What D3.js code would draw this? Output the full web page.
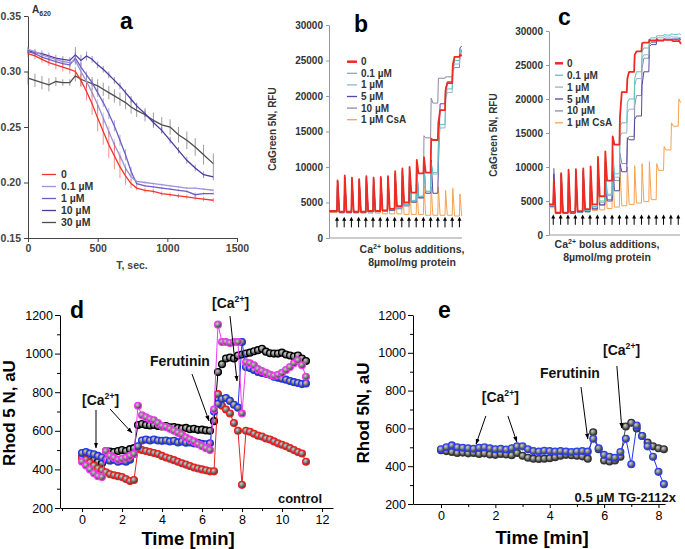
<!DOCTYPE html>
<html>
<head>
<meta charset="utf-8">
<script src="https://cdn.jsdelivr.net/npm/d3@7"></script>
<style>
  body { margin: 0; background: #fff; }
</style>
</head>
<body>
<svg id="fig" width="685" height="549"></svg>
<script>
var FONT = "Liberation Sans, Arial, sans-serif";

// ---------------- panel a data (T, sec / A620) ----------------
var aTime = [0, 50, 100, 150, 200, 250, 300, 340, 380, 420, 460, 500, 540, 580, 620, 660, 700, 740, 780, 840, 900, 960, 1020, 1080, 1140, 1200, 1260, 1330];
var a0   = [.316,.314,.311,.308,.306,.304,.302,.300,.292,.282,.271,.258,.246,.234,.224,.214,.206,.199,.195,.193,.192,.190,.189,.188,.187,.186,.185,.184];
var a01  = [.320,.318,.315,.313,.311,.309,.308,.310,.300,.291,.281,.270,.258,.246,.234,.224,.213,.205,.201,.200,.199,.198,.197,.196,.195,.195,.194,.193];
var a1   = [.318,.316,.313,.311,.309,.307,.306,.312,.304,.297,.290,.281,.272,.262,.251,.238,.225,.210,.199,.197,.196,.195,.194,.193,.192,.189,.190,.190];
var a10  = [.319,.317,.316,.314,.312,.311,.310,.315,.310,.314,.311,.306,.302,.297,.292,.287,.281,.275,.269,.262,.254,.247,.238,.229,.220,.213,.207,.205];
var a30  = [.294,.292,.290,.288,.291,.290,.290,.296,.293,.291,.289,.287,.284,.281,.278,.275,.272,.268,.265,.261,.256,.252,.250,.243,.238,.232,.225,.217];
var a0Err  = [.003,.003,.003,.003,.004,.004,.004,.004,.006,.008,.010,.012,.012,.012,.012,.010,.008,.004,.002,.002,.002,.002,.002,.002,.002,.002,.002,.002];
var a01Err = [.002,.002,.002,.002,.002,.002,.002,.003,.003,.004,.004,.005,.005,.005,.005,.004,.004,.003,.001,.001,.001,.001,.001,.001,.001,.001,.001,.001];
var a1Err  = [.002,.002,.002,.002,.002,.002,.002,.006,.004,.003,.003,.004,.004,.005,.005,.005,.005,.004,.002,.001,.001,.001,.001,.001,.001,.002,.001,.001];
var a10Err = [.003,.003,.003,.003,.003,.003,.003,.007,.005,.004,.003,.003,.003,.003,.003,.003,.003,.003,.003,.003,.003,.003,.003,.003,.003,.003,.003,.003];
var a30Err = [.006,.006,.006,.006,.004,.003,.003,.005,.006,.006,.006,.006,.006,.006,.006,.006,.006,.006,.006,.006,.007,.007,.007,.007,.008,.008,.009,.009];
var aNames = ["0", "0.1 \u00b5M", "1 \u00b5M", "10  \u00b5M", "30  \u00b5M"];
var aXTicks = [0, 500, 1000, 1500];
var aYTicks = [0.15, 0.20, 0.25, 0.30, 0.35];

// ---------------- panels b, c data (Ca2+ pulses / RFU) ----------------
var pulses = [1,2,3,4,5,6,7,8,9,10,11,12,13,14,15,16,17,18];
var bcNames = ["0", "0.1 \u00b5M", "1 \u00b5M", "5 \u00b5M", "10 \u00b5M", "1 \u00b5M CsA"];
var bcYTicks = [0, 5000, 10000, 15000, 20000, 25000, 30000];

var bStart   = [3800, 3800, 3800, 3700, 3800, 3600];
var b0Peak   = [8100,8800,8500,8300,8700,8500,8600,8700,9400,9800,10000,11000,11400,14000,16200,20800,24400,25800];
var b0Low    = [3700,3700,3700,3700,3800,3800,3900,4100,4500,5000,6400,9100,9200,13800,18000,21800,25500,25700];
var b01Peak  = [8000,8500,8300,8000,8500,8300,8400,8500,9000,9300,9400,9700,10200,10700,13400,20000,24000,26500];
var b01Low   = [3700,3700,3700,3700,3700,3800,3900,4000,4300,4700,5300,5900,6600,9200,16000,21000,25000,26300];
var b1Peak   = [8000,8400,8200,8000,8400,8200,8300,8400,8900,9200,9300,9500,10000,10500,13000,19500,23500,26200];
var b1Low    = [3700,3700,3700,3700,3700,3800,3800,4000,4200,4600,5200,5800,6500,9000,15500,20500,24500,26000];
var b5Peak   = [8000,8600,8300,8100,8500,8400,8500,8600,9100,9500,9600,10000,10500,11000,10000,21000,24000,26800];
var b5Low    = [3600,3600,3600,3600,3700,3700,3800,3900,4200,4600,5100,5700,6300,6300,18900,22000,25000,27000];
var b10Peak  = [8000,8500,8300,8000,8400,8300,8400,8500,9000,9400,9500,9800,14400,19700,22500,22700,23500,25500];
var b10Low   = [3700,3700,3700,3700,3700,3800,3800,3900,4100,4500,5000,5600,14100,19000,22500,22700,24000,26500];
var bCsAPeak = [8100,8300,8000,8300,8200,8000,7900,7700,7700,7500,7600,7400,7300,7200,7200,6700,7000,6200];
var bCsALow  = [3500,3500,3500,3500,3500,3500,3400,3400,3400,3300,3300,3300,3200,3200,3200,3200,3100,3100];

var cStart   = [4500, 4300, 4300, 4200, 4200, 4000];
var c0Peak   = [8100,9100,9600,9700,9800,10100,11500,12300,14500,17500,23000,26500,28200,28700,28800,28800,28700,28600];
var c0Low    = [3300,3300,3400,3500,3800,4500,5700,8000,13300,21000,24000,27000,28300,28600,28600,28700,28500,28200];
var c01Peak  = [7500,8500,9000,9200,9300,9500,10500,11000,12500,16000,19500,23000,27000,28800,29300,29500,29600,29600];
var c01Low   = [3300,3300,3300,3400,3600,4200,5000,6000,9000,16500,20000,24000,27500,29000,29300,29400,29500,29500];
var c1Peak   = [7500,8300,8800,9000,9200,9400,10200,10800,12000,14500,18000,22000,26000,28300,29000,29200,29200,29100];
var c1Low    = [3300,3300,3300,3400,3600,4100,4800,5800,8500,15000,18500,23000,26500,28500,29000,29100,29100,29000];
var c5Peak   = [9000,9000,9000,9300,9400,9600,10000,10500,11000,10500,14300,17000,22000,27700,28500,28800,28800,28900];
var c5Low    = [3200,3200,3200,3300,3400,3800,4400,5000,6500,9300,14000,17500,24000,28000,28600,28800,28800,28800];
var c10Peak  = [9800,9000,9100,9300,9500,9700,10200,10800,11500,12000,14000,19000,24500,28000,28600,28800,28800,28800];
var c10Low   = [3200,3200,3200,3300,3500,3900,4500,5200,8000,10500,14500,20500,26000,28300,28600,28700,28800,28700];
var cCsAPeak = [8000,8800,9000,9200,9000,9200,9300,9500,9600,9800,10000,10200,10500,10800,10500,13000,16500,20000];
var cCsALow  = [3200,3300,3300,3400,3500,3600,3700,3900,4100,4300,4500,4700,4900,5200,9500,12500,16000,19500];

// ---------------- panel d data (Time, min / Rhod 5N) ----------------
var dTime = [0,0.2,0.4,0.6,0.8,1,1.2,1.4,1.6,1.8, 2,2.2,2.4,2.6,2.8,3,3.2,3.4,3.6,3.8,
             4,4.2,4.4,4.6,4.8,5,5.2,5.4,5.6,5.8, 6,6.2,6.4,6.6,6.8,7,7.2,7.4,7.6,7.8,
             8,8.2,8.4,8.6,8.8,9,9.2,9.4,9.6,9.8, 10,10.2,10.4,10.6,10.8,11,11.2];
var dBlack = [462,458,452,448,440,432,495,492,490,495, 500,495,505,510,630,635,630,628,630,625,
              622,625,618,620,615,612,615,608,610,605, 606,602,600,650,905,945,975,980,975,990,
              995,1000,1005,1012,1018,1025,1010,1002,1000,1000, 1005,995,990,985,990,975,962];
var dRed   = [462,450,435,420,405,395,385,375,370,365, 360,350,340,345,505,500,495,490,485,480,
              470,462,455,448,440,432,425,418,410,405, 400,395,390,390,790,730,710,690,640,600,
              320,600,595,585,575,570,560,555,545,535, 528,520,510,500,490,482,440];
var dBlue  = [485,490,482,478,470,462,450,445,450,440, 445,440,450,480,520,550,555,550,555,550,
              548,550,545,548,540,545,538,540,535,538, 532,530,535,700,740,765,770,755,735,720,
              1060,930,925,915,905,900,895,890,880,875, 870,865,858,852,848,842,845];
var dMag   = [440,420,400,380,365,360,495,470,460,450, 455,460,470,480,730,680,670,660,655,640,
              625,620,610,600,590,580,565,555,545,530, 520,510,500,710,1150,1060,1060,1055,1060,1060,
              690,955,950,940,920,910,900,890,885,890, 900,915,930,950,965,940,880];
var dXTicks = [0, 2, 4, 6, 8, 10, 12];
var dXMinor = [-1, 1, 3, 5, 7, 9, 11];
var rhodTicks = [200, 400, 600, 800, 1000, 1200];
var rhodMinor = [300, 500, 700, 900, 1100];

// ---------------- panel e data ----------------
var eTime = [0,0.2,0.4,0.6,0.8,1,1.2,1.4,1.6,1.8, 2,2.2,2.4,2.6,2.8,3,3.2,3.4,3.6,3.8,
             4,4.2,4.4,4.6,4.8,5,5.2,5.4,5.6,5.8, 6,6.2,6.4,6.6,6.8,7,7.2,7.4,7.6,7.8, 8,8.2];
var eBlack = [485,480,475,470,472,468,470,465,468,462, 460,465,462,458,470,455,445,440,438,440,
              442,448,455,460,458,455,452,440,580,490, 430,425,430,450,610,630,600,560,525,505, 495,490];
var eBlue  = [490,500,510,500,498,495,492,498,500,495, 490,492,488,495,505,505,490,480,478,482,
              480,478,480,478,475,478,480,478,545,495, 460,450,445,475,545,410,615,560,505,450, 370,305];
var eXTicks = [0, 2, 4, 6, 8];
var eXMinor = [1, 3, 5, 7];

// annotations in data units [t, value]
var dNotes = { ca1: [0.0, 734], fer: [3.4, 936], ca2: [6.5, 1236] };
var dArrows = [[[0.7, 708], [0.7, 511]], [[1.4, 713], [2.5, 589]], [[5.5, 894], [6.35, 651]], [[7.4, 1195], [7.75, 858]]];
var eNotes = { ca1: [1.5, 740], fer: [3.64, 867], ca2: [5.96, 988] };
var eArrows = [[[1.65, 666], [1.29, 517]], [[2.46, 666], [2.79, 528]], [[5.15, 819], [5.4, 544]], [[6.47, 930], [6.65, 602]]];

// ------------------------------------------------------------------
var svg = d3.select("#fig");
var defs = svg.append("defs");
var grad = defs.append("radialGradient").attr("id", "ball").attr("cx", "38%").attr("cy", "35%").attr("r", "65%");
grad.append("stop").attr("offset", "0%").attr("stop-color", "#cfcfcf");
grad.append("stop").attr("offset", "100%").attr("stop-color", "#2e2e2e");
defs.append("marker").attr("id", "ah").attr("viewBox", "0 0 10 10")
    .attr("refX", 9).attr("refY", 5).attr("markerWidth", 6).attr("markerHeight", 6)
    .attr("orient", "auto")
  .append("path").attr("d", "M0,1.5L10,5L0,8.5Z").attr("fill", "#000");

function styleAxis(sel, fs, fw, col) {
  sel.attr("font-size", fs).attr("font-family", FONT).attr("font-weight", fw);
  sel.selectAll("text").attr("fill", col);
  sel.selectAll("line,path").attr("stroke", col);
}

function title(x, y, s) {
  svg.append("text").attr("x", x).attr("y", y).attr("font-family", FONT)
    .attr("font-weight", "bold").attr("font-size", 23).attr("fill", "#000").text(s);
}

// ======================= PANEL a =======================
var xa = d3.scaleLinear().domain([0, 1500]).range([28, 237]),
    ya = d3.scaleLinear().domain([0.15, 0.35]).range([238, 16]);
var ga = svg.append("g");

ga.append("g").attr("transform", "translate(0,238)")
  .call(d3.axisBottom(xa).tickValues(aXTicks).tickSize(4).tickSizeOuter(0).tickFormat(d3.format("d")))
  .call(styleAxis, 10.5, "bold", "#444");
ga.append("g").attr("transform", "translate(28,0)")
  .call(d3.axisLeft(ya).tickValues(aYTicks).tickSize(4).tickSizeOuter(0).tickFormat(d3.format(".2f")))
  .call(styleAxis, 10.5, "bold", "#444");

var aSeries = [
  { vals: a30, err: a30Err, color: "#4d4d4d" },
  { vals: a10, err: a10Err, color: "#4b3a9e" },
  { vals: a1,  err: a1Err,  color: "#6b5fc4" },
  { vals: a01, err: a01Err, color: "#9d92d6" },
  { vals: a0,  err: a0Err,  color: "#f2342c" }
];
aSeries.forEach(function(s) {
  ga.append("g").selectAll("line").data(aTime).enter().append("line")
    .attr("x1", function(d) { return xa(d); })
    .attr("x2", function(d) { return xa(d); })
    .attr("y1", function(d, i) { return ya(s.vals[i] + s.err[i]); })
    .attr("y2", function(d, i) { return ya(s.vals[i] - s.err[i]); })
    .attr("stroke", s.color).attr("stroke-opacity", 0.55).attr("stroke-width", 1);
  ga.append("path").datum(aTime)
    .attr("fill", "none").attr("stroke", s.color).attr("stroke-width", 1.3)
    .attr("d", d3.line().x(function(d) { return xa(d); }).y(function(d, i) { return ya(s.vals[i]); }));
});

var aLegColors = ["#f2342c", "#9d92d6", "#6b5fc4", "#4b3a9e", "#4d4d4d"];
var aLeg = ga.append("g").selectAll("g").data(aNames).enter().append("g")
  .attr("transform", function(d, i) { return "translate(42," + (174.5 + i * 12) + ")"; });
aLeg.append("line").attr("x1", 0).attr("x2", 14).attr("stroke-width", 1.3)
  .attr("stroke", function(d, i) { return aLegColors[i]; });
aLeg.append("text").attr("x", 19).attr("dy", "0.35em").attr("font-family", FONT)
  .attr("font-weight", "bold").attr("font-size", 10.5).attr("fill", "#333").text(function(d) { return d; });

var aLab = ga.append("text").attr("x", 32).attr("y", 13).attr("font-family", FONT)
  .attr("font-weight", "bold").attr("font-size", 10).attr("fill", "#333");
aLab.append("tspan").text("A");
aLab.append("tspan").attr("font-size", 7).attr("dy", 3).text("620");
ga.append("text").attr("x", 132).attr("y", 269).attr("text-anchor", "middle").attr("font-family", FONT)
  .attr("font-weight", "bold").attr("font-size", 10.5).attr("fill", "#444").text("T, sec.");
title(120, 29, "a");

// ======================= PANELS b, c =======================
var bcColors = ["#ee2a22", "#5ec2c0", "#93b6cc", "#5645a6", "#8f88a8", "#f6a24f"];

function sawPoints(start, peaks, lows, x0, x1) {
  var pts = [[x0, start]], prev = start;
  pulses.forEach(function(p, i) {
    pts.push([p, prev], [p + 0.08, peaks[i]], [p + 0.32, lows[i]]);
    prev = lows[i];
  });
  pts.push([x1, prev]);
  return pts;
}

function drawPulsePanel(cfg) {
  var x = d3.scaleLinear().domain(cfg.xDom).range(cfg.xRange),
      y = d3.scaleLinear().domain([0, 30000]).range(cfg.yRange);
  var g = svg.append("g");
  g.append("g").attr("transform", "translate(" + cfg.xRange[0] + ",0)")
    .call(d3.axisLeft(y).tickValues(bcYTicks).tickSize(3).tickSizeOuter(0).tickFormat(d3.format("d")))
    .call(styleAxis, 10, "bold", "#333")
    .call(function(a) { a.select(".domain").attr("stroke", "#999"); a.selectAll(".tick line").attr("stroke", "#999"); });
  g.append("line").attr("x1", cfg.xRange[0]).attr("x2", cfg.xRange[1])
    .attr("y1", cfg.yRange[0]).attr("y2", cfg.yRange[0]).attr("stroke", "#999");

  var line = d3.line().x(function(d) { return x(d[0]); }).y(function(d) { return y(d[1]); });
  // draw order: CsA, 10, 5, 1, 0.1, 0
  [5, 4, 3, 2, 1, 0].forEach(function(k) {
    g.append("path").datum(sawPoints(cfg.start[k], cfg.peaks[k], cfg.lows[k], cfg.xDom[0], cfg.xDom[1]))
      .attr("fill", "none").attr("stroke", bcColors[k])
      .attr("stroke-width", k === 0 ? 1.8 : 1).attr("stroke-linejoin", "round")
      .attr("d", line);
  });

  // Ca2+ bolus arrows
  var ar = g.append("g").selectAll("g").data(pulses).enter().append("g");
  ar.append("line").attr("x1", function(d) { return x(d); }).attr("x2", function(d) { return x(d); })
    .attr("y1", y(1500)).attr("y2", y(2600)).attr("stroke", "#000").attr("stroke-width", 1);
  ar.append("path").attr("d", function(d) {
      var cx = x(d), cy = y(3000);
      return "M" + (cx - 2) + "," + (cy + 4) + "L" + cx + "," + cy + "L" + (cx + 2) + "," + (cy + 4) + "Z";
    }).attr("fill", "#000");

  // legend
  var leg = g.append("g").selectAll("g").data(bcNames).enter().append("g")
    .attr("transform", function(d, i) { return "translate(" + cfg.leg[0] + "," + (cfg.leg[1] + i * cfg.leg[2]) + ")"; });
  leg.append("line").attr("x1", 0).attr("x2", cfg.leg[3])
    .attr("stroke", function(d, i) { return bcColors[i]; })
    .attr("stroke-width", function(d, i) { return i === 0 ? 2.5 : 1.3; });
  leg.append("text").attr("x", cfg.leg[3] + 4).attr("dy", "0.35em").attr("font-family", FONT)
    .attr("font-weight", "bold").attr("font-size", 10).attr("fill", "#333").text(function(d) { return d; });

  g.append("text").attr("transform", "translate(" + cfg.yLab[0] + "," + cfg.yLab[1] + ") rotate(-90)")
    .attr("text-anchor", "middle").attr("font-family", FONT).attr("font-weight", "bold")
    .attr("font-size", 10).attr("fill", "#333").text("CaGreen 5N, RFU");

  var t1 = g.append("text").attr("x", cfg.xLab[0]).attr("y", cfg.xLab[1]).attr("text-anchor", "middle")
    .attr("font-family", FONT).attr("font-weight", "bold").attr("font-size", 10.5).attr("fill", "#333");
  t1.append("tspan").text("Ca");
  t1.append("tspan").attr("font-size", 7).attr("dy", -4).text("2+");
  t1.append("tspan").attr("dy", 4).text(" bolus additions,");
  g.append("text").attr("x", cfg.xLab[0]).attr("y", cfg.xLab[1] + 12.5).attr("text-anchor", "middle")
    .attr("font-family", FONT).attr("font-weight", "bold").attr("font-size", 10.5).attr("fill", "#333")
    .text("8\u00b5mol/mg protein");
}

drawPulsePanel({
  xDom: [-0.11, 18.36], xRange: [329, 462], yRange: [238, 25],
  start: bStart,
  peaks: [b0Peak, b01Peak, b1Peak, b5Peak, b10Peak, bCsAPeak],
  lows:  [b0Low, b01Low, b1Low, b5Low, b10Low, bCsALow],
  leg: [347, 61.7, 11.6, 10], yLab: [276, 129], xLab: [412, 253]
});
drawPulsePanel({
  xDom: [0.42, 18.24], xRange: [549, 680], yRange: [235, 31],
  start: cStart,
  peaks: [c0Peak, c01Peak, c1Peak, c5Peak, c10Peak, cCsAPeak],
  lows:  [c0Low, c01Low, c1Low, c5Low, c10Low, cCsALow],
  leg: [555, 63.3, 11.9, 8], yLab: [497, 135], xLab: [607, 248]
});
title(354, 32, "b");
title(558, 25, "c");

// ======================= PANELS d, e =======================
function caText(g, x, y, fs) {
  var t = g.append("text").attr("x", x).attr("y", y).attr("font-family", FONT)
    .attr("font-weight", "bold").attr("font-size", fs).attr("fill", "#111");
  t.append("tspan").text("[Ca");
  t.append("tspan").attr("font-size", fs * 0.62).attr("dy", -fs * 0.42).text("2+");
  t.append("tspan").attr("dy", fs * 0.42).text("]");
}

function drawRhodPanel(cfg) {
  var x = d3.scaleLinear().domain(cfg.xDom).range(cfg.xRange),
      y = d3.scaleLinear().domain([200, 1200]).range(cfg.yRange);
  var g = svg.append("g");
  var y0 = cfg.yRange[0];

  g.append("g").attr("transform", "translate(0," + y0 + ")")
    .call(d3.axisBottom(x).tickValues(cfg.xTicks).tickSize(4).tickPadding(3).tickSizeOuter(0).tickFormat(d3.format("d")))
    .call(styleAxis, 12.5, "normal", "#000");
  g.append("g").attr("transform", "translate(0," + y0 + ")")
    .call(d3.axisBottom(x).tickValues(cfg.xMinor).tickSize(3).tickFormat(""))
    .call(styleAxis, 12.5, "normal", "#000").call(function(a) { a.select(".domain").remove(); });
  g.append("g").attr("transform", "translate(" + cfg.xRange[0] + ",0)")
    .call(d3.axisLeft(y).tickValues(rhodTicks).tickSize(5).tickPadding(2).tickSizeOuter(0).tickFormat(d3.format("d")))
    .call(styleAxis, 12.5, "normal", "#000");
  g.append("g").attr("transform", "translate(" + cfg.xRange[0] + ",0)")
    .call(d3.axisLeft(y).tickValues(rhodMinor).tickSize(3).tickFormat(""))
    .call(styleAxis, 12.5, "normal", "#000").call(function(a) { a.select(".domain").remove(); });

  cfg.series.forEach(function(s) {
    g.append("path").datum(cfg.time).attr("fill", "none").attr("stroke", s.color).attr("stroke-width", 1)
      .attr("d", d3.line().x(function(d) { return x(d); }).y(function(d, i) { return y(s.vals[i]); }));
    g.append("g").selectAll("circle").data(cfg.time).enter().append("circle")
      .attr("cx", function(d) { return x(d); })
      .attr("cy", function(d, i) { return y(s.vals[i]); })
      .attr("r", 3.4).attr("fill", "url(#ball)")
      .attr("stroke", s.edge).attr("stroke-width", 1.3);
  });

  cfg.arrows.forEach(function(a) {
    g.append("line").attr("x1", x(a[0][0])).attr("y1", y(a[0][1]))
      .attr("x2", x(a[1][0])).attr("y2", y(a[1][1]))
      .attr("stroke", "#000").attr("stroke-width", 1).attr("marker-end", "url(#ah)");
  });
  caText(g, x(cfg.notes.ca1[0]), y(cfg.notes.ca1[1]), 14);
  caText(g, x(cfg.notes.ca2[0]), y(cfg.notes.ca2[1]), 14);
  g.append("text").attr("x", x(cfg.notes.fer[0])).attr("y", y(cfg.notes.fer[1])).attr("font-family", FONT)
    .attr("font-weight", "bold").attr("font-size", 14).attr("fill", "#111").text("Ferutinin");
  g.append("text").attr("x", cfg.corner[0]).attr("y", cfg.corner[1]).attr("text-anchor", "end")
    .attr("font-family", FONT).attr("font-weight", "bold").attr("font-size", 13).attr("fill", "#111")
    .text(cfg.cornerText);

  g.append("text").attr("transform", "translate(" + cfg.yLab[0] + "," + cfg.yLab[1] + ") rotate(-90)")
    .attr("text-anchor", "middle").attr("font-family", FONT).attr("font-weight", "bold")
    .attr("font-size", 17).attr("fill", "#000").text(cfg.yText);
  g.append("text").attr("x", cfg.xLab[0]).attr("y", cfg.xLab[1]).attr("text-anchor", "middle")
    .attr("font-family", FONT).attr("font-weight", "bold").attr("font-size", 18.5).attr("fill", "#000")
    .text("Time [min]");
}

drawRhodPanel({
  xDom: [-1.1, 12.55], xRange: [60, 333], yRange: [508, 315],
  xTicks: dXTicks, xMinor: dXMinor, time: dTime,
  series: [
    { vals: dBlack, color: "#000", edge: "#000" },
    { vals: dRed, color: "#e8201e", edge: "#e8201e" },
    { vals: dBlue, color: "#1f35e8", edge: "#1f35e8" },
    { vals: dMag, color: "#f03cf0", edge: "#f03cf0" }
  ],
  notes: dNotes, arrows: dArrows,
  corner: [322, 503], cornerText: "control",
  yLab: [15, 413], yText: "Rhod 5 N, aU", xLab: [188, 545]
});
drawRhodPanel({
  xDom: [-1.03, 8.24], xRange: [413, 665], yRange: [504, 315],
  xTicks: eXTicks, xMinor: eXMinor, time: eTime,
  series: [
    { vals: eBlack, color: "#444", edge: "#333" },
    { vals: eBlue, color: "#1f35e8", edge: "#2a40ee" }
  ],
  notes: eNotes, arrows: eArrows,
  corner: [676, 502], cornerText: "0.5 \u00b5M TG-2112x",
  yLab: [369, 413], yText: "Rhod 5N, aU", xLab: [542, 544]
});
title(70, 318, "d");
title(438, 318, "e");
</script>
</body>
</html>
